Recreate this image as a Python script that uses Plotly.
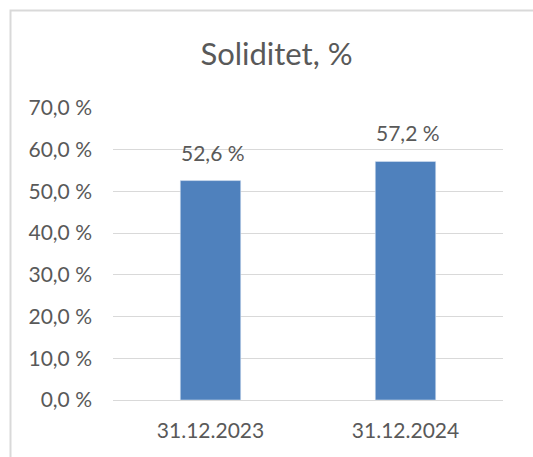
import plotly.graph_objects as go

categories = ["31.12.2023", "31.12.2024"]
values = [52.6, 57.2]
y_ticks = [0, 10, 20, 30, 40, 50, 60, 70]
title_text = "Soliditet, %"

TEXT = "#595959"
GRID = "#D9D9D9"
BAR = "#4F81BD"
FONT = "Lato"


def fmt(v):
    return f"{v:.1f}".replace(".", ",") + " %"


labels = [fmt(v) for v in values]
y_ticktext = [fmt(v) for v in y_ticks]

fig = go.Figure(go.Bar(x=categories, y=values, marker_color=BAR, hoverinfo="skip"))

for c, v, t in zip(categories, values, labels):
    fig.add_annotation(x=c, y=v, text=t, showarrow=False, yanchor="bottom",
                       yshift=14, xshift=2, font=dict(family=FONT, size=21, color=TEXT))

fig.update_layout(
    width=533, height=457,
    margin=dict(l=113, r=30, t=108, b=57),
    paper_bgcolor="white", plot_bgcolor="white",
    bargap=0.69,
    showlegend=False,
    title=dict(text=title_text, x=276.5 / 533, xanchor="center",
               y=1 - 54 / 457, yanchor="middle", yref="container",
               font=dict(family=FONT, size=31, color=TEXT)),
    font=dict(family=FONT, color=TEXT, size=21),
)
fig.layout.title.xref = "container"

fig.update_yaxes(range=[0, 70], tickmode="array", tickvals=y_ticks, ticktext=y_ticktext,
                 showgrid=True, gridcolor=GRID, gridwidth=1, zeroline=False,
                 showline=False, ticklabelstandoff=20,
                 tickfont=dict(family=FONT, size=21, color=TEXT))
fig.update_xaxes(showline=True, linecolor=GRID, linewidth=1, showgrid=False,
                 ticks="", ticklabelstandoff=12,
                 tickfont=dict(family=FONT, size=21, color=TEXT))

# chart border (cropped at right and bottom in the reference)
fig.add_shape(type="rect", xref="paper", yref="paper",
              x0=(10.5 - 113) / 390, x1=(560 - 113) / 390,
              y0=(400 - 480) / 292, y1=(400 - 10.5) / 292,
              line=dict(color=GRID, width=2), fillcolor="rgba(0,0,0,0)", layer="below")

fig.write_html("out.html", config={"displayModeBar": False},
               post_script="document.body.style.margin='0';")
